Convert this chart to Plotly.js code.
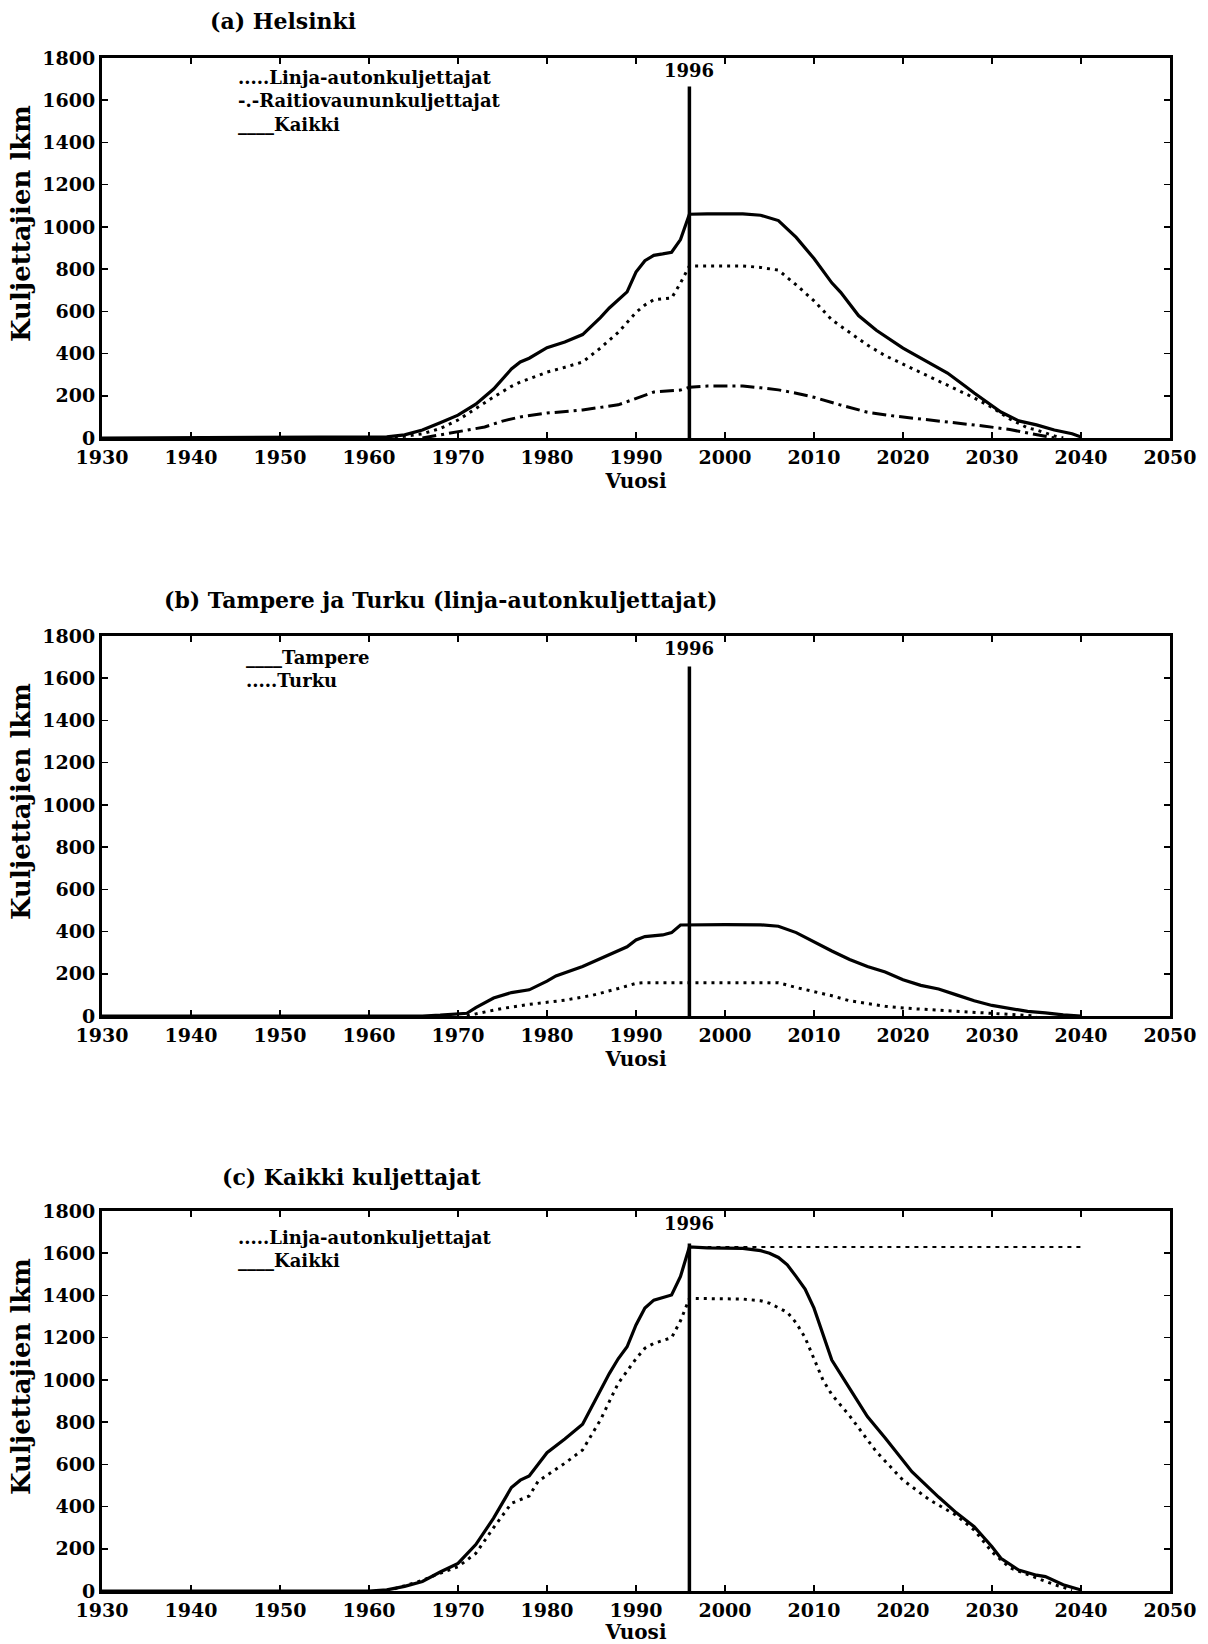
<!DOCTYPE html>
<html>
<head>
<meta charset="utf-8">
<script src="https://cdn.plot.ly/plotly-3.0.1.min.js"></script>
<style>html,body{margin:0;padding:0;background:#fff;}</style>
</head>
<body>
<div id="chart" style="width:1208px;height:1644px;"></div>
<script>
// ---------- DATA ----------
const xTicks = [1930, 1940, 1950, 1960, 1970, 1980, 1990, 2000, 2010, 2020, 2030, 2040, 2050];
const yTicks = [0, 200, 400, 600, 800, 1000, 1200, 1400, 1600, 1800];
const markerYear = 1996;

// (a) Helsinki
const helAllYears = [1930, 1960, 1962, 1964, 1966, 1968, 1970, 1972, 1974, 1976, 1977, 1978, 1980, 1982, 1984, 1986, 1987, 1989, 1990, 1991, 1992, 1993, 1994, 1995, 1996, 1998, 2000, 2002, 2004, 2006, 2008, 2010, 2012, 2013, 2015, 2017, 2020, 2022, 2024, 2025, 2027, 2028, 2031, 2033, 2035, 2037, 2039, 2040];
const helAllValues = [0, 2, 5, 15, 38, 72, 108, 160, 232, 327, 360, 378, 428, 455, 490, 570, 616, 692, 786, 840, 865, 872, 880, 940, 1060, 1062, 1062, 1062, 1055, 1030, 950, 850, 735, 690, 580, 510, 426, 380, 330, 308, 245, 213, 123, 81, 62, 38, 20, 5];

const helBusYears = [1962, 1964, 1966, 1968, 1970, 1972, 1974, 1976, 1977, 1978, 1980, 1982, 1984, 1986, 1988, 1990, 1991, 1992, 1994, 1995, 1996, 1998, 2002, 2004, 2006, 2008, 2010, 2012, 2014, 2016, 2018, 2020, 2022, 2025, 2028, 2030, 2032, 2034, 2035, 2037, 2038];
const helBusValues = [0, 8, 20, 45, 85, 140, 194, 245, 265, 280, 312, 335, 360, 426, 500, 595, 630, 655, 663, 734, 815, 815, 815, 808, 795, 725, 650, 560, 502, 440, 390, 350, 310, 251, 190, 145, 90, 48, 38, 10, 0];

const helTramYears = [1966, 1968, 1970, 1973, 1975, 1977, 1980, 1984, 1988, 1990, 1992, 1995, 1996, 1998, 2002, 2004, 2006, 2008, 2010, 2013, 2016, 2019, 2021, 2025, 2029, 2032, 2035, 2037];
const helTramValues = [0, 15, 28, 52, 80, 100, 118, 133, 157, 189, 218, 227, 240, 246, 246, 238, 228, 212, 193, 156, 122, 104, 95, 76, 57, 40, 15, 0];

// (b) Tampere ja Turku
const tampereYears = [1930, 1966, 1968, 1970, 1971, 1972, 1974, 1976, 1978, 1980, 1981, 1984, 1987, 1989, 1990, 1991, 1993, 1994, 1995, 1996, 2000, 2004, 2006, 2008, 2010, 2012, 2014, 2016, 2018, 2020, 2022, 2024, 2026, 2028, 2030, 2032, 2034, 2036, 2038, 2040];
const tampereValues = [0, 0, 4, 8, 13, 40, 85, 111, 124, 165, 190, 235, 289, 328, 360, 376, 384, 395, 431, 432, 433, 432, 425, 395, 350, 308, 268, 234, 208, 172, 145, 128, 100, 72, 50, 35, 22, 15, 5, 0];

const turkuYears = [1971, 1972, 1975, 1978, 1982, 1985, 1988, 1990, 1991, 2000, 2006, 2008, 2010, 2012, 2014, 2016, 2018, 2021, 2024, 2028, 2032, 2035];
const turkuValues = [0, 10, 36, 55, 75, 97, 130, 155, 158, 158, 158, 135, 115, 96, 72, 58, 46, 35, 27, 16, 8, 0];

// (c) Kaikki kuljettajat
const allAllYears = [1930, 1960, 1962, 1964, 1966, 1967, 1968, 1970, 1972, 1974, 1975, 1976, 1977, 1978, 1980, 1982, 1984, 1986, 1987, 1988, 1989, 1990, 1991, 1992, 1993, 1994, 1995, 1996, 1998, 2000, 2002, 2004, 2005, 2006, 2007, 2008, 2009, 2010, 2011, 2012, 2014, 2016, 2018, 2021, 2024, 2026, 2028, 2030, 2031, 2033, 2035, 2036, 2038, 2040];
const allAllValues = [0, 0, 5, 22, 45, 68, 90, 131, 220, 345, 420, 490, 525, 545, 655, 720, 790, 950, 1030, 1100, 1157, 1260, 1340, 1378, 1390, 1402, 1490, 1630, 1625, 1625, 1623, 1612, 1600, 1580, 1545, 1489, 1430, 1340, 1220, 1094, 960, 826, 725, 565, 445, 370, 305, 210, 155, 99, 75, 68, 30, 5];

const allBusYears = [1962, 1964, 1966, 1967, 1970, 1972, 1974, 1976, 1978, 1979, 1982, 1984, 1986, 1988, 1990, 1991, 1992, 1994, 1995, 1996, 2000, 2002, 2004, 2005, 2007, 2008, 2009, 2011, 2012, 2014, 2017, 2020, 2023, 2026, 2028, 2030, 2032, 2035, 2037, 2039];
const allBusValues = [0, 25, 50, 68, 115, 178, 300, 415, 450, 520, 605, 668, 810, 984, 1100, 1150, 1173, 1200, 1280, 1386, 1386, 1383, 1375, 1363, 1320, 1270, 1200, 1000, 930, 830, 660, 525, 431, 358, 289, 185, 110, 60, 30, 5];

const refLevelYears = [1996, 2040];
const refLevelValues = [1630, 1630];

// vertical 1996 marker heights per panel
const markerTops = [1665, 1656, 1646];
const markerLabelY = 1740;

// texts
const panelTitles = ['(a) Helsinki', '(b) Tampere ja Turku (linja-autonkuljettajat)', '(c) Kaikki kuljettajat'];
const xTitle = 'Vuosi';
const yTitle = 'Kuljettajien lkm';
const legendA = ['.....Linja-autonkuljettajat', '-.-Raitiovaununkuljettajat', '____Kaikki'];
const legendB = ['____Tampere', '.....Turku'];
const legendC = ['.....Linja-autonkuljettajat', '____Kaikki'];

// ---------- STYLE ----------
const FONT = 'DejaVu Serif';
const BLACK = '#000000';
const W = 1208, H = 1644;
const marginL = 102, marginR = 38;
const plotW = W - marginL - marginR;
const px2paperX = px => (px - marginL) / plotW;
const px2paperY = py => 1 - py / H;

const panels = [
  {top: 58, bottom: 438, titleX: 283, titleY: 21},
  {top: 636, bottom: 1016, titleX: 440, titleY: 600},
  {top: 1211, bottom: 1591, titleX: 351, titleY: 1177}
];

const solid = {color: BLACK, width: 3.2, dash: 'solid'};
const dotted = {color: BLACK, width: 3, dash: '3px,5px'};
const dashdot = {color: BLACK, width: 3, dash: '14px,5px,3px,5px'};
const thinDot = {color: BLACK, width: 2, dash: '4px,5px'};
const marker = {color: BLACK, width: 3.5, dash: 'solid'};

function line(x, y, ln, ax) {
  return {type: 'scatter', mode: 'lines', x: x, y: y, line: ln,
          xaxis: 'x' + (ax === 1 ? '' : ax), yaxis: 'y' + (ax === 1 ? '' : ax),
          showlegend: false, hoverinfo: 'x+y'};
}

const traces = [
  line(helAllYears, helAllValues, solid, 1),
  line(helBusYears, helBusValues, dotted, 1),
  line(helTramYears, helTramValues, dashdot, 1),
  line([markerYear, markerYear], [0, markerTops[0]], marker, 1),

  line(tampereYears, tampereValues, solid, 2),
  line(turkuYears, turkuValues, dotted, 2),
  line([markerYear, markerYear], [0, markerTops[1]], marker, 2),

  line(allAllYears, allAllValues, solid, 3),
  line(allBusYears, allBusValues, dotted, 3),
  line(refLevelYears, refLevelValues, thinDot, 3),
  line([markerYear, markerYear], [0, markerTops[2]], marker, 3)
];

const tickFont = {family: FONT, size: 19, color: BLACK, weight: 'bold'};

function xAxis(i) {
  return {
    domain: [0, 1], anchor: 'y' + (i === 1 ? '' : i), range: [1930, 2050],
    tickvals: xTicks, ticktext: xTicks.map(String),
    ticks: 'inside', ticklen: 6, tickwidth: 1.5, tickcolor: BLACK,
    showline: true, linewidth: 3, linecolor: BLACK, mirror: 'ticks',
    showgrid: false, zeroline: false, automargin: false,
    tickfont: tickFont,
    title: {text: xTitle, font: {family: FONT, size: 20, color: BLACK, weight: 'bold'}, standoff: 8}
  };
}
function yAxis(i) {
  const p = panels[i - 1];
  return {
    domain: [px2paperY(p.bottom), px2paperY(p.top)], anchor: 'x' + (i === 1 ? '' : i),
    range: [0, 1800], tickvals: yTicks, ticktext: yTicks.map(String),
    ticks: 'inside', ticklen: 6, tickwidth: 1.5, tickcolor: BLACK,
    showline: true, linewidth: 3, linecolor: BLACK, mirror: 'ticks',
    showgrid: false, zeroline: false, automargin: false,
    tickfont: tickFont
  };
}

const annotations = [];
panels.forEach((p, k) => {
  annotations.push({xref: 'paper', yref: 'paper', x: px2paperX(p.titleX), y: px2paperY(p.titleY),
    xanchor: 'center', yanchor: 'middle', showarrow: false, text: panelTitles[k],
    font: {family: FONT, size: 22, color: BLACK, weight: 'bold'}});
  // y-axis title, drawn slightly above the panel centre as in the reference
  annotations.push({xref: 'paper', yref: 'paper', x: px2paperX(21), y: px2paperY((p.top + p.bottom) / 2 - 24),
    xanchor: 'center', yanchor: 'middle', showarrow: false, textangle: -90, text: yTitle,
    font: {family: FONT, size: 26, color: BLACK, weight: 'bold'}});
  const ax = k === 0 ? '' : String(k + 1);
  annotations.push({xref: 'x' + ax, yref: 'y' + ax, x: markerYear, y: markerLabelY,
    xanchor: 'center', yanchor: 'middle', showarrow: false, text: String(markerYear),
    font: {family: FONT, size: 18, color: BLACK, weight: 'bold'}});
});

function legendBlock(items, ax, x0, yCenter) {
  annotations.push({xref: 'x' + ax, yref: 'y' + ax, x: x0, y: yCenter,
    xanchor: 'left', yanchor: 'middle', align: 'left', showarrow: false, text: items.join('<br>'),
    font: {family: FONT, size: 18, color: BLACK, weight: 'bold'}});
}
legendBlock(legendA, '', 1945.0, 1595);
legendBlock(legendB, '2', 1946.0, 1645);
legendBlock(legendC, '3', 1945.0, 1620);

const layout = {
  width: W, height: H,
  margin: {l: marginL, r: marginR, t: 0, b: 0},
  paper_bgcolor: '#ffffff', plot_bgcolor: '#ffffff',
  font: {family: FONT, color: BLACK},
  showlegend: false,
  xaxis: xAxis(1), yaxis: yAxis(1),
  xaxis2: xAxis(2), yaxis2: yAxis(2),
  xaxis3: xAxis(3), yaxis3: yAxis(3),
  annotations: annotations
};

Plotly.newPlot('chart', traces, layout, {staticPlot: true, displayModeBar: false});
</script>
</body>
</html>
